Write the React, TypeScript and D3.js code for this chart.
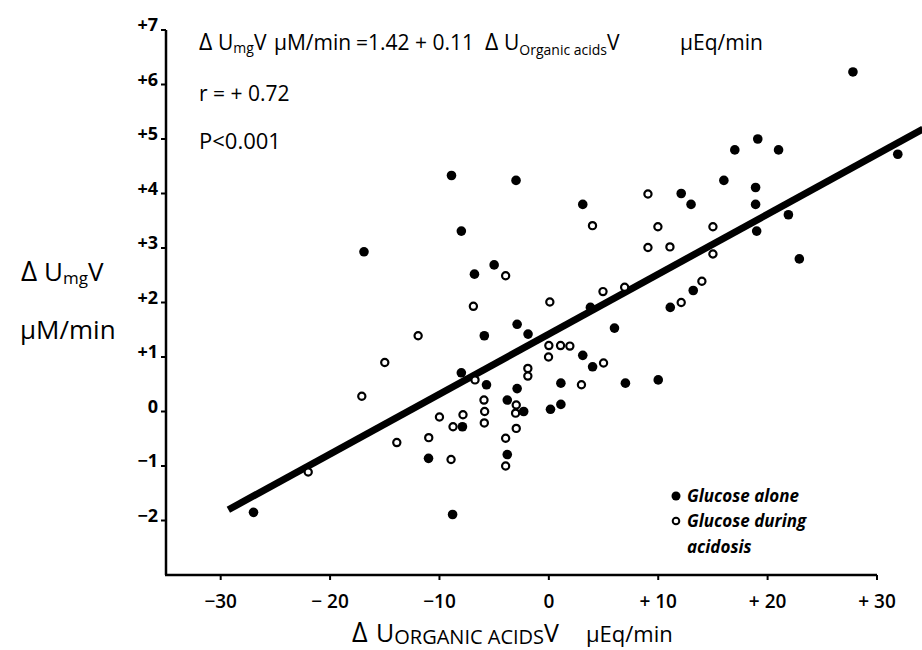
import React from "react";
import * as d3 from "d3";

// Glucose alone (filled): [ΔU organic acids V (µEq/min), ΔU_mg V (µM/min)]
const aloneX = [-27, -16.9, -8.9, -3.0, 3.1, -8.0, -6.8, -5.0, -5.9, 3.8, -2.9, -1.9, 6.0, 3.1, 4.0, -8.0, -5.7, -2.9, 1.1, 7.0, -3.8, -2.3, 0.15, 1.1, -7.9, -11.0, -3.8, -8.8, 10.0, 19.1, 17.0, 21.0, 31.9, 16.0, 18.9, 12.1, 13.0, 18.9, 21.9, 19.0, 22.9, 13.2, 11.1, 27.8];
const aloneY = [-1.85, 2.93, 4.33, 4.24, 3.8, 3.31, 2.52, 2.69, 1.39, 1.91, 1.6, 1.42, 1.53, 1.03, 0.82, 0.71, 0.49, 0.42, 0.52, 0.52, 0.21, 0.0, 0.04, 0.13, -0.28, -0.86, -0.79, -1.89, 0.58, 5.0, 4.8, 4.8, 4.72, 4.24, 4.11, 4.0, 3.8, 3.8, 3.61, 3.31, 2.8, 2.22, 1.91, 6.23];

// Glucose during acidosis (open)
const acidX = [-22.0, -3.95, -6.9, -11.95, 0.09, 4.95, 6.93, 0, 1.07, 1.92, -0.03, 5.0, -15.0, -6.75, -1.92, -1.92, -17.1, 2.98, -5.93, -2.98, -5.87, -3.04, -10.0, -7.85, -8.76, -5.9, -2.98, -10.98, -13.9, -3.95, -8.94, -3.95, 3.99, 9.06, 9.97, 15.0, 9.06, 11.07, 15.0, 13.99, 12.1];
const acidY = [-1.11, 2.49, 1.93, 1.39, 2.01, 2.2, 2.28, 1.21, 1.21, 1.2, 1.0, 0.89, 0.9, 0.58, 0.79, 0.65, 0.28, 0.49, 0.21, 0.12, 0.0, -0.03, -0.1, -0.06, -0.28, -0.21, -0.31, -0.48, -0.57, -0.49, -0.88, -1.0, 3.41, 3.99, 3.39, 3.39, 3.01, 3.02, 2.89, 2.39, 2.0];

const xTicks = [-30, -20, -10, 0, 10, 20, 30];
const xTickLabels = ["−30", "− 20", "−10", "0", "+ 10", "+ 20", "+ 30"];
const yTicks = [7, 6, 5, 4, 3, 2, 1, 0, -1, -2];
const yTickLabels = ["+7", "+6", "+5", "+4", "+3", "+2", "+1", "0", "−1", "−2"];

const intercept = 1.42;
const slope = 0.11;
const fitRange = [-29.3, 34.2];

const FONT = "'Open Sans', Lato, 'DejaVu Sans', sans-serif";

export default function App() {
  const x = d3.scaleLinear().domain([-35, 30]).range([166, 877]);
  const y = d3.scaleLinear().domain([-3, 7]).range([575, 30]);

  const fitLine = d3
    .line<number>()
    .x((d) => x(d))
    .y((d) => y(intercept + slope * d));

  return (
    <svg
      width={922}
      height={650}
      style={{ position: "absolute", left: 0, top: 0, background: "#fff" }}
      fontFamily={FONT}
    >
      {/* axes */}
      <line x1={x(-35)} y1={y(7)} x2={x(-35)} y2={y(-3)} stroke="#000" strokeWidth={2.5} />
      <line x1={x(-35) - 1} y1={y(-3)} x2={x(30)} y2={y(-3)} stroke="#000" strokeWidth={2.5} />

      {yTicks.map((t, i) => (
        <g key={"yt" + t}>
          <line x1={x(-35) - 5} x2={x(-35)} y1={y(t)} y2={y(t)} stroke="#000" strokeWidth={2} />
          <text
            x={x(-35) - 8}
            y={y(t) + 1}
            textAnchor="end"
            fontSize={18}
            fontWeight="bold"
          >
            {yTickLabels[i]}
          </text>
        </g>
      ))}

      {xTicks.map((t, i) => (
        <g key={"xt" + t}>
          <line x1={x(t)} x2={x(t)} y1={y(-3)} y2={y(-3) + 5} stroke="#000" strokeWidth={2} />
          <text x={x(t)} y={y(-3) + 33} textAnchor="middle" fontSize={19} fontWeight={600}>
            {xTickLabels[i]}
          </text>
        </g>
      ))}

      {/* regression line */}
      <path d={fitLine(fitRange) || ""} stroke="#000" strokeWidth={7} fill="none" />

      {/* points */}
      {aloneX.map((vx, i) => (
        <circle key={"a" + i} cx={x(vx)} cy={y(aloneY[i])} r={4.8} fill="#000" />
      ))}
      {acidX.map((vx, i) => (
        <circle
          key={"o" + i}
          cx={x(vx)}
          cy={y(acidY[i])}
          r={3.6}
          fill="#fff"
          stroke="#000"
          strokeWidth={2.2}
        />
      ))}

      {/* annotation */}
      <text y={50} fontSize={21}>
        <tspan x={199} fontSize={23}>Δ</tspan>
        <tspan x={218}>U</tspan>
        <tspan fontSize={14} dy={3}>mg</tspan>
        <tspan dy={-3}>V</tspan>
        <tspan x={274}>μM/min</tspan>
        <tspan x={356}>=1.42 + 0.11</tspan>
        <tspan x={485} fontSize={23}>Δ</tspan>
        <tspan x={504}>U</tspan>
        <tspan fontSize={14} dy={5}>Organic acids</tspan>
        <tspan dy={-5}>V</tspan>
        <tspan x={680}>μEq/min</tspan>
      </text>
      <text x={199} y={101} fontSize={21}>r = + 0.72</text>
      <text x={199} y={149} fontSize={22}>P&lt;0.001</text>

      {/* y title */}
      <text y={281} fontSize={26}>
        <tspan x={21} fontSize={28}>Δ</tspan>
        <tspan x={44}>U</tspan>
        <tspan fontSize={17} dy={3}>mg</tspan>
        <tspan dy={-3}>V</tspan>
      </text>
      <text x={20} y={339} fontSize={26}>μM/min</text>

      {/* x title */}
      <text y={642} fontSize={25}>
        <tspan x={352} fontSize={27}>Δ</tspan>
        <tspan x={376}>U</tspan>
        <tspan fontSize={20} dy={2}>ORGANIC ACIDS</tspan>
        <tspan dy={-2}>V</tspan>
        <tspan x={586} fontSize={22}>μEq/min</tspan>
      </text>

      {/* legend */}
      <circle cx={676} cy={496} r={4.5} fill="#000" />
      <text x={687} y={502} fontSize={17} fontStyle="italic" fontWeight="bold">
        Glucose alone
      </text>
      <circle cx={676} cy={521} r={3.3} fill="#fff" stroke="#000" strokeWidth={2} />
      <text x={687} y={527} fontSize={17} fontStyle="italic" fontWeight="bold">
        Glucose during
      </text>
      <text x={687} y={553} fontSize={17} fontStyle="italic" fontWeight="bold">
        acidosis
      </text>
    </svg>
  );
}
